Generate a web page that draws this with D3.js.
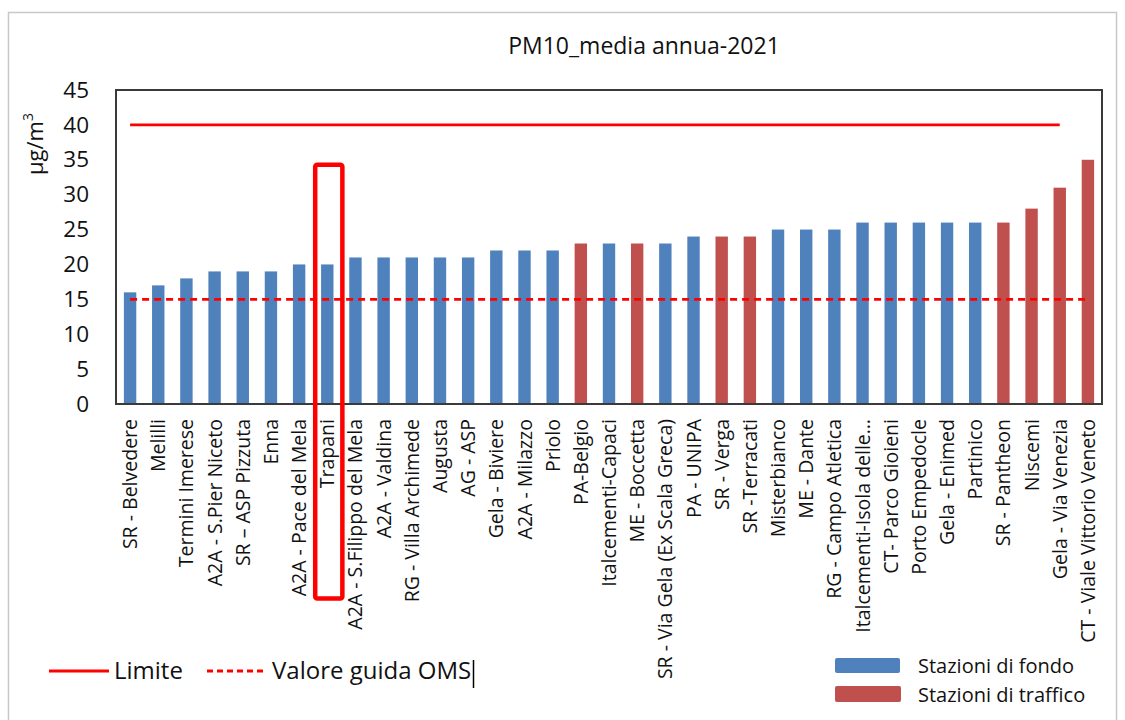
<!DOCTYPE html>
<html>
<head>
<meta charset="utf-8">
<script src="https://cdn.jsdelivr.net/npm/d3@7"></script>
<style>
  body { margin: 0; background: #fff; }
  svg { display: block; font-family: 'Open Sans', sans-serif; }
</style>
</head>
<body>
<svg id="chart" width="1125" height="720"></svg>
<script>
// data
const stations = [
  'SR - Belvedere', 'Melilli', 'Termini Imerese', 'A2A - S.Pier Niceto', 'SR \u2013 ASP Pizzuta',
  'Enna', 'A2A - Pace del Mela', 'Trapani', 'A2A - S.Filippo del Mela', 'A2A - Valdina',
  'RG - Villa Archimede', 'Augusta', 'AG - ASP', 'Gela - Biviere', 'A2A - Milazzo',
  'Priolo', 'PA-Belgio', 'Italcementi-Capaci', 'ME - Boccetta', 'SR - Via Gela (Ex Scala Greca)',
  'PA - UNIPA', 'SR - Verga', 'SR -Terracati', 'Misterbianco', 'ME - Dante',
  'RG - Campo Atletica', 'Italcementi-Isola delle\u2026', 'CT- Parco Gioieni', 'Porto Empedocle', 'Gela - Enimed',
  'Partinico', 'SR - Pantheon', 'Niscemi', 'Gela - Via Venezia', 'CT - Viale Vittorio Veneto'
];
const pm10 = [
  16, 17, 18, 19, 19, 19, 20, 20, 21, 21,
  21, 21, 21, 22, 22, 22, 23, 23, 23, 23,
  24, 24, 24, 25, 25, 25, 26, 26, 26, 26,
  26, 26, 28, 31, 35
];
// F = stazione di fondo, T = stazione di traffico
const stationType = [
  'F', 'F', 'F', 'F', 'F', 'F', 'F', 'F', 'F', 'F',
  'F', 'F', 'F', 'F', 'F', 'F', 'T', 'F', 'T', 'F',
  'F', 'T', 'T', 'F', 'F', 'F', 'F', 'F', 'F', 'F',
  'F', 'T', 'T', 'T', 'T'
];
const yTicks = [0, 5, 10, 15, 20, 25, 30, 35, 40, 45];
const limite = 40;           // drawn up to 'Gela - Via Venezia'
const limiteLast = 'Gela - Via Venezia';
const guidaOMS = 15;
const highlighted = 'Trapani';
const title = 'PM10_media annua-2021';
const legendLines = ['Limite', 'Valore guida OMS'];
const legendBars = ['Stazioni di fondo', 'Stazioni di traffico'];

const BLUE = '#4f81bd';
const RED = '#c0504d';
const LINE_RED = '#ff0000';

const svg = d3.select('#chart');
const plot = { left: 116, right: 1102, top: 90, bottom: 404 };

// outer frame
svg.append('rect')
  .attr('x', 8.5).attr('y', 12.5)
  .attr('width', 1108).attr('height', 740)
  .attr('fill', '#fff')
  .attr('stroke', '#c8c8c8')
  .attr('stroke-width', 1.5);

const x = d3.scaleBand()
  .domain(stations)
  .range([plot.left, plot.right])
  .paddingInner(0.56)
  .paddingOuter(0.28);

const y = d3.scaleLinear().domain([0, 45]).range([plot.bottom, plot.top]);
const cx = (s) => x(s) + x.bandwidth() / 2;

// title
svg.append('text')
  .attr('x', 644).attr('y', 54)
  .attr('text-anchor', 'middle')
  .attr('font-size', 23)
  .attr('fill', '#111')
  .text(title);

// bars
const rows = stations.map((s, i) => ({ s, v: pm10[i], t: stationType[i] }));
svg.append('g')
  .selectAll('rect')
  .data(rows)
  .enter()
  .append('rect')
  .attr('x', (d) => x(d.s))
  .attr('y', (d) => y(d.v))
  .attr('width', x.bandwidth())
  .attr('height', (d) => y(0) - y(d.v))
  .attr('fill', (d) => (d.t === 'T' ? RED : BLUE));

// reference lines
const line = d3.line().x((d) => cx(d.s)).y((d) => y(d.v));
const limiteRows = stations.slice(0, stations.indexOf(limiteLast) + 1).map((s) => ({ s, v: limite }));
const omsRows = stations.map((s) => ({ s, v: guidaOMS }));

svg.append('path')
  .datum(limiteRows)
  .attr('d', line)
  .attr('fill', 'none')
  .attr('stroke', LINE_RED)
  .attr('stroke-width', 2.8);

svg.append('path')
  .datum(omsRows)
  .attr('d', line)
  .attr('fill', 'none')
  .attr('stroke', LINE_RED)
  .attr('stroke-width', 2.8)
  .attr('stroke-dasharray', '7,5');

// plot frame
svg.append('rect')
  .attr('x', plot.left).attr('y', plot.top)
  .attr('width', plot.right - plot.left)
  .attr('height', plot.bottom - plot.top)
  .attr('fill', 'none')
  .attr('stroke', '#3a3a3a')
  .attr('stroke-width', 2);

// y axis
const yAxis = svg.append('g')
  .attr('transform', `translate(${plot.left},0)`)
  .call(d3.axisLeft(y).tickValues(yTicks).tickSize(0).tickPadding(27));
yAxis.select('.domain').remove();
yAxis.selectAll('text')
  .attr('font-family', "'Open Sans', sans-serif")
  .attr('font-size', 22.5)
  .attr('fill', '#111');

const yTitle = svg.append('text')
  .attr('transform', 'translate(43,144) rotate(-90)')
  .attr('text-anchor', 'middle')
  .attr('font-size', 22)
  .attr('fill', '#111');
yTitle.append('tspan').text('\u00b5g/m');
yTitle.append('tspan').attr('font-size', 14).attr('dy', -10).text('3');

// x axis labels
const xAxis = svg.append('g')
  .attr('transform', `translate(0,${plot.bottom})`)
  .call(d3.axisBottom(x).tickSize(0));
xAxis.select('.domain').remove();
xAxis.selectAll('text')
  .attr('font-family', "'Open Sans', sans-serif")
  .attr('font-size', 19.5)
  .attr('fill', '#111')
  .attr('transform', 'rotate(-90)')
  .attr('x', -15)
  .attr('y', 0)
  .attr('dy', '0.36em')
  .style('text-anchor', 'end');

// highlight box around Trapani
const hx = cx(highlighted) - x.step() / 2;
svg.append('rect')
  .attr('x', hx + 2)
  .attr('y', y(34.3))
  .attr('width', x.step() - 1)
  .attr('height', 598.5 - y(34.3))
  .attr('rx', 2)
  .attr('fill', 'none')
  .attr('stroke', LINE_RED)
  .attr('stroke-width', 4.5);

// legend: lines
const legL = svg.append('g').attr('font-size', 24).attr('fill', '#111');
legL.append('line')
  .attr('x1', 49).attr('x2', 109).attr('y1', 671).attr('y2', 671)
  .attr('stroke', LINE_RED).attr('stroke-width', 3);
legL.append('text').attr('x', 114).attr('y', 679).text(legendLines[0]);
legL.append('line')
  .attr('x1', 207).attr('x2', 267).attr('y1', 671).attr('y2', 671)
  .attr('stroke', LINE_RED).attr('stroke-width', 3)
  .attr('stroke-dasharray', '6,4');
legL.append('text').attr('x', 272).attr('y', 679).text(legendLines[1]);
legL.append('line')
  .attr('x1', 473.5).attr('x2', 473.5).attr('y1', 660).attr('y2', 688)
  .attr('stroke', '#000').attr('stroke-width', 1.5);

// legend: bars
const legB = svg.append('g').attr('font-size', 20).attr('fill', '#111');
legB.append('rect').attr('x', 835).attr('y', 658).attr('width', 65).attr('height', 15).attr('rx', 2).attr('fill', BLUE);
legB.append('rect').attr('x', 835).attr('y', 686).attr('width', 66).attr('height', 16).attr('rx', 2).attr('fill', RED);
legB.append('text').attr('x', 918).attr('y', 673).text(legendBars[0]);
legB.append('text').attr('x', 918).attr('y', 702).text(legendBars[1]);
</script>
</body>
</html>
